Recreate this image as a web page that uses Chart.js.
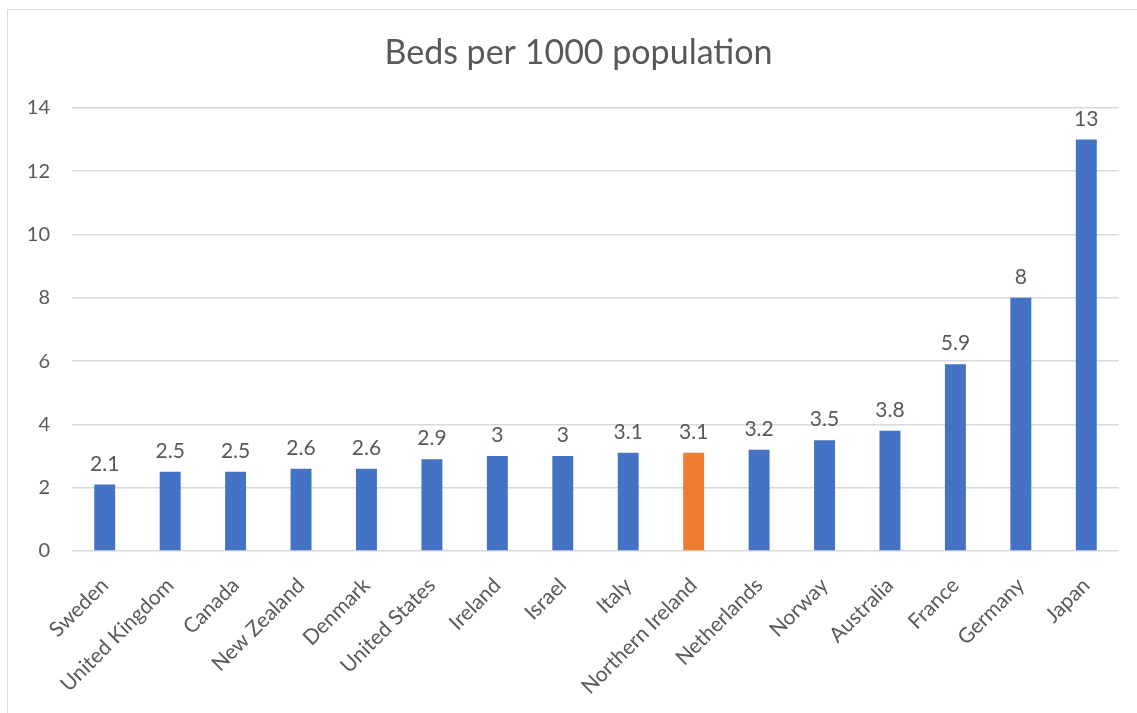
<!DOCTYPE html>
<html>
<head>
<meta charset="utf-8">
<script src="https://cdn.jsdelivr.net/npm/chart.js@4"></script>
<style>
  body { margin: 0; background: #fff; }
  #wrap { position: relative; width: 1137px; height: 713px; overflow: hidden; }
  #frame { position: absolute; left: 7px; top: 9px; width: 1140px; height: 710px; border: 1px solid #d9d9d9; box-sizing: border-box; }
  canvas { position: absolute; left: 0; top: 0; }
</style>
</head>
<body>
<div id="wrap">
  <div id="frame"></div>
  <canvas id="chart" width="1137" height="713"></canvas>
</div>
<script>
// countries along the x axis
const countries = ['Sweden', 'United Kingdom', 'Canada', 'New Zealand', 'Denmark', 'United States',
  'Ireland', 'Israel', 'Italy', 'Northern Ireland', 'Netherlands', 'Norway', 'Australia',
  'France', 'Germany', 'Japan']
// beds per 1000 population
const beds = [2.1, 2.5, 2.5, 2.6, 2.6, 2.9, 3, 3, 3.1, 3.1, 3.2, 3.5, 3.8, 5.9, 8, 13]
// y axis ticks
const yTicks = [0, 2, 4, 6, 8, 10, 12, 14]

const highlight = 'Northern Ireland'
const barColors = countries.map(c => c === highlight ? '#ED7D31' : '#4472C4')
const textColor = '#595959'
const font = 'Lato'

//plugin drawing the value above each bar
const valueLabels = {
  id: 'valueLabels',
  afterDatasetsDraw(chart) {
    const ctx = chart.ctx
    ctx.save()
    ctx.font = '21px ' + font
    ctx.fillStyle = textColor
    ctx.textAlign = 'center'
    ctx.textBaseline = 'bottom'
    chart.getDatasetMeta(0).data.forEach((bar, i) => {
      ctx.fillText(String(beds[i]), bar.x, bar.y - 10)
    })
    ctx.restore()
  }
}

//nudge the title box so it is centred on the frame like the original
const titleShift = {
  id: 'titleShift',
  afterLayout(chart) {
    if (chart.titleBlock) chart.titleBlock.left = 38
  }
}

new Chart(document.getElementById('chart'), {
  type: 'bar',
  data: {
    labels: countries,
    datasets: [{
      data: beds,
      backgroundColor: barColors,
      barPercentage: 0.32,
      categoryPercentage: 1
    }]
  },
  options: {
    responsive: false,
    animation: false,
    layout: { padding: { left: 0, right: 18, top: 0, bottom: 0 } },
    plugins: {
      legend: { display: false },
      tooltip: { enabled: false },
      title: {
        display: true,
        text: 'Beds per 1000 population',
        color: textColor,
        font: { family: font, size: 34, weight: 'normal' },
        padding: { top: 33, bottom: 34 }
      }
    },
    scales: {
      x: {
        grid: { display: false },
        border: { display: false },
        ticks: {
          color: textColor,
          font: { family: font, size: 21 },
          minRotation: 45,
          maxRotation: 45,
          autoSkip: false,
          padding: 14
        },
        afterFit(scale) { scale.height = 162 }
      },
      y: {
        min: 0,
        max: 14,
        afterBuildTicks(scale) { scale.ticks = yTicks.map(v => ({ value: v })) },
        grid: { color: '#d9d9d9', lineWidth: 1.5, drawTicks: false },
        border: { display: false },
        ticks: {
          color: textColor,
          font: { family: font, size: 20 },
          padding: 22
        },
        afterFit(scale) { scale.width = 72 }
      }
    }
  },
  plugins: [valueLabels, titleShift]
})
</script>
</body>
</html>
